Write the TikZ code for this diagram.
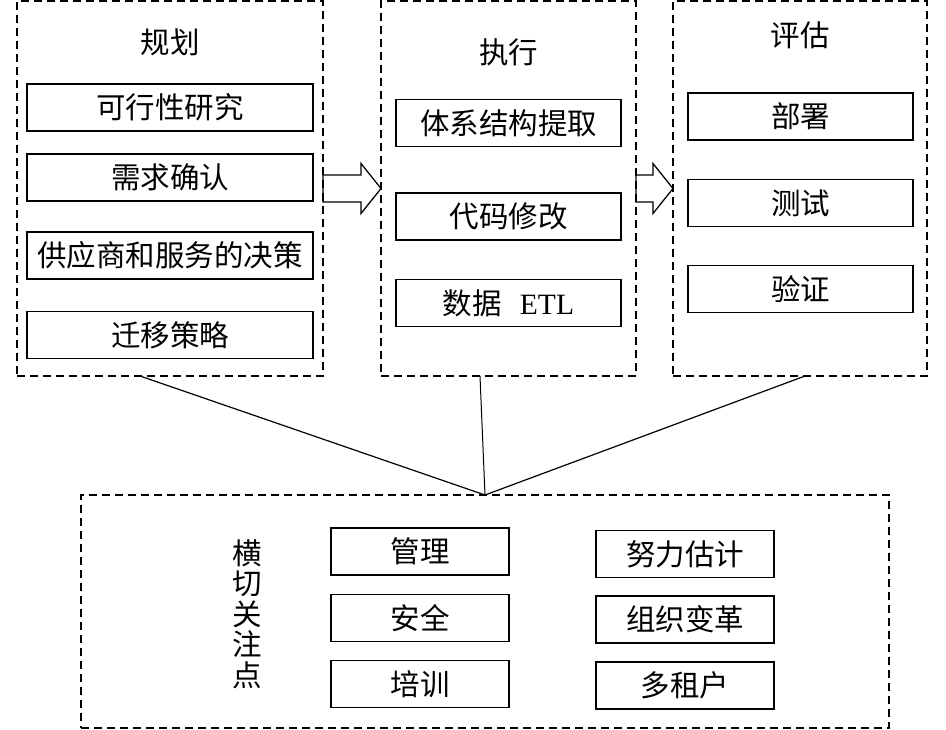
\documentclass[tikz,border=0pt]{standalone}
\usepackage{fontspec}
\setmainfont{Liberation Serif}
\newfontfamily\cjk{Noto Sans CJK SC}
\usepackage{tikz}
\usetikzlibrary{calc}

\begin{document}
\begin{tikzpicture}[x=1pt, y=-1pt,
    grp/.style={draw, dash pattern=on 8pt off 5pt, line width=1.3pt, inner sep=0pt, outer sep=0pt},
    box/.style={draw, line width=1.1pt, inner sep=0pt, outer sep=0pt, minimum height=47pt, font=\cjk\fontsize{29.5}{32}\selectfont},
    ttl/.style={font=\cjk\fontsize{29.5}{32}\selectfont, align=center},
    flow/.style={draw, line width=1.3pt, line join=miter},
    link/.style={line width=1.2pt}
]
\useasboundingbox (0,0) rectangle (946,729);

% phase groups
\node[grp, minimum width=306pt, minimum height=375pt] (plan) at (170,188.5) {};
\node[grp, minimum width=255pt, minimum height=375pt] (exec) at (508.5,188.5) {};
\node[grp, minimum width=254pt, minimum height=375pt] (eval) at (800,188.5) {};
\node[grp, minimum width=808pt, minimum height=233pt] (cross) at (485,611.5) {};

\node[ttl] (plant) at (170,42) {规划};
\node[ttl] (exect) at (508.5,52) {执行};
\node[ttl] (evalt) at (800,35) {评估};
\node[ttl, font=\cjk\fontsize{29.5}{30.5}\selectfont] (crosst) at (247,614) {横\\切\\关\\注\\点};

% planning
\node[box, minimum width=286pt] (feas) at (170,107.5) {可行性研究};
\node[box, minimum width=286pt] (req) at (170,177.5) {需求确认};
\node[box, minimum width=286pt] (vend) at (170,255.5) {供应商和服务的决策};
\node[box, minimum width=286pt] (strat) at (170,335) {迁移策略};

% execution
\node[box, minimum width=225pt] (arch) at (508.5,123) {体系结构提取};
\node[box, minimum width=225pt] (code) at (508.5,216.5) {代码修改};
\node[box, minimum width=225pt] (etl) at (508.5,303) {数据\hspace{18pt}{\rmfamily ETL}};

% evaluation
\node[box, minimum width=225pt] (depl) at (800.5,116.5) {部署};
\node[box, minimum width=225pt] (test) at (800.5,203) {测试};
\node[box, minimum width=225pt] (valid) at (800.5,289) {验证};

% cross-cutting concerns
\node[box, minimum width=178pt] (mgmt) at (420,551.5) {管理};
\node[box, minimum width=178pt] (sec) at (420,618) {安全};
\node[box, minimum width=178pt] (train) at (420,684) {培训};
\node[box, minimum width=178pt] (effort) at (685,554) {努力估计};
\node[box, minimum width=178pt] (org) at (685,619.5) {组织变革};
\node[box, minimum width=178pt] (tenant) at (685,685.5) {多租户};

% block arrows between phases
\foreach \a/\b in {plan/exec, exec/eval}
  \draw[flow] ([yshift=13.5pt]\a.east) -- ([xshift=-20pt,yshift=13.5pt]\b.west)
    -- ([xshift=-20pt,yshift=25pt]\b.west) -- (\b.west)
    -- ([xshift=-20pt,yshift=-25pt]\b.west) -- ([xshift=-20pt,yshift=-13.5pt]\b.west)
    -- ([yshift=-13.5pt]\a.east) -- cycle;

\draw[link] ([xshift=-30pt]plan.south) -- (cross.north);
\draw[link, line width=1pt] ([xshift=-28.5pt]exec.south) -- (cross.north);
\draw[link] ([xshift=5pt]eval.south) -- (cross.north);
\end{tikzpicture}
\end{document}
